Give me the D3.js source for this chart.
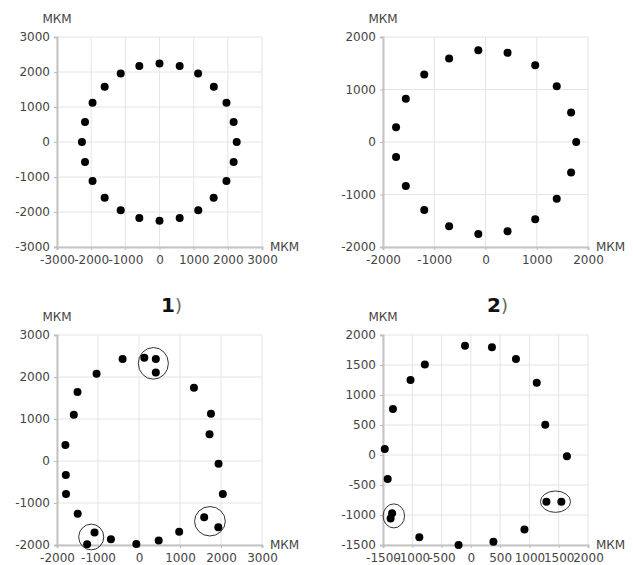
<!DOCTYPE html>
<html>
<head>
<meta charset="utf-8">
<script src="https://cdn.jsdelivr.net/npm/d3@7"></script>
<style>
  body { margin: 0; background: #fff; }
  text { font-family: "DejaVu Sans", sans-serif; }
</style>
</head>
<body>
<script>
// measured points, микрометры
var scan1 = [[0,2240],[590,2170],[1130,1960],[1590,1580],[1960,1120],[2170,570],[2260,0],
  [2170,-570],[1960,-1115],[1585,-1590],[1135,-1950],[590,-2170],[0,-2250],[-590,-2170],
  [-1135,-1950],[-1605,-1590],[-1960,-1115],[-2180,-570],[-2270,0],[-2180,570],
  [-1960,1120],[-1605,1580],[-1135,1960],[-590,2170]];

var scan2 = [[-140,1750],[430,1700],[970,1460],[1390,1060],[1670,560],[1770,0],[1670,-580],
  [1390,-1080],[970,-1470],[430,-1700],[-140,-1750],[-710,-1605],[-1195,-1295],
  [-1555,-840],[-1745,-285],[-1745,280],[-1555,825],[-1195,1285],[-710,1590]];

var scan3 = [[-400,2430],[130,2460],[410,2430],[410,2110],[-1035,2080],[-1500,1640],
  [-1590,1100],[-1795,380],[-1785,-335],[-1780,-785],[-1495,-1255],[-1085,-1705],
  [-1265,-1985],[-685,-1865],[-65,-1975],[480,-1890],[980,-1685],[1340,1745],
  [1755,1125],[1720,635],[1940,-65],[2045,-785],[1590,-1340],[1935,-1580]];

var scan4 = [[-100,1820],[360,1795],[770,1600],[1125,1205],[1270,505],[1640,-20],
  [1290,-780],[1545,-780],[915,-1240],[385,-1445],[-210,-1500],[-880,-1370],
  [-1345,-970],[-1370,-1060],[-1420,-400],[-1470,100],[-1330,765],[-1030,1250],[-785,1510]];

// groups circled on the lower charts
var marks3 = [{cx: 350, cy: 2325, rx: 367, ry: 377}, {cx: -1165, cy: -1810, rx: 306, ry: 306},
  {cx: 1730, cy: -1435, rx: 375, ry: 350}];
var marks4 = [{cx: -1315, cy: -1015, rx: 183, ry: 200}, {cx: 1445, cy: -778, rx: 257, ry: 178}];

var ticks1 = [-3000,-2000,-1000,0,1000,2000,3000];
var ticks2 = [-2000,-1000,0,1000,2000];
var ticks3x = [-2000,-1000,0,1000,2000,3000];
var ticks3y = [-2000,-1000,0,1000,2000,3000];
var ticks4x = [-1500,-1000,-500,0,500,1000,1500,2000];
var ticks4y = [-1500,-1000,-500,0,500,1000,1500,2000];

var unitLabel = "МКМ";
var captions = [["1", ")"], ["2", ")"]];

var svg = d3.select("body").append("svg")
    .attr("width", 633)
    .attr("height", 565);

var panels = [
  { left: 57,  top: 37,  pts: scan1, xt: ticks1,  yt: ticks1,  marks: [] },
  { left: 383, top: 37,  pts: scan2, xt: ticks2,  yt: ticks2,  marks: [] },
  { left: 57,  top: 335, pts: scan3, xt: ticks3x, yt: ticks3y, marks: marks3 },
  { left: 383, top: 335, pts: scan4, xt: ticks4x, yt: ticks4y, marks: marks4 }
];

var w = 205, h = 210;
var fmt = function (d) { return String(d); };   // plain hyphen, as on the original

panels.forEach(function (p) {
  var g = svg.append("g").attr("transform", "translate(" + p.left + "," + p.top + ")");

  var x = d3.scaleLinear().domain(d3.extent(p.xt)).range([0, w]);
  var y = d3.scaleLinear().domain(d3.extent(p.yt)).range([h, 0]);

  // grid
  g.selectAll(".gx").data(p.xt).enter().append("line")
      .attr("x1", function (d) { return x(d); }).attr("x2", function (d) { return x(d); })
      .attr("y1", 0).attr("y2", h)
      .attr("stroke", "#e4e4e4");
  g.selectAll(".gy").data(p.yt).enter().append("line")
      .attr("y1", function (d) { return y(d); }).attr("y2", function (d) { return y(d); })
      .attr("x1", 0).attr("x2", w)
      .attr("stroke", "#e4e4e4");

  var ax = g.append("g").attr("transform", "translate(0," + h + ")")
      .call(d3.axisBottom(x).tickValues(p.xt).tickSize(3).tickPadding(5).tickFormat(fmt));
  var ay = g.append("g")
      .call(d3.axisLeft(y).tickValues(p.yt).tickSize(3).tickPadding(4).tickFormat(fmt));

  [ax, ay].forEach(function (a) {
    a.select(".domain").attr("stroke", "#c4c4c4").attr("stroke-width", 2);
    a.selectAll(".tick line").attr("stroke", "#bbb");
    a.selectAll(".tick text").attr("fill", "#444").style("font-size", "12px")
        .style("font-family", "'DejaVu Sans', sans-serif");
  });

  // circled groups
  g.selectAll(".mark").data(p.marks).enter().append("ellipse")
      .attr("cx", function (d) { return x(d.cx); })
      .attr("cy", function (d) { return y(d.cy); })
      .attr("rx", function (d) { return x(d.cx + d.rx) - x(d.cx); })
      .attr("ry", function (d) { return y(d.cy - d.ry) - y(d.cy); })
      .attr("fill", "none")
      .attr("stroke", "#333")
      .attr("stroke-width", 1);

  g.selectAll(".dot").data(p.pts).enter().append("circle")
      .attr("cx", function (d) { return x(d[0]); })
      .attr("cy", function (d) { return y(d[1]); })
      .attr("r", 4)
      .attr("fill", "#000");

  // units
  g.append("text").attr("x", 0).attr("y", -14)
      .attr("text-anchor", "middle")
      .attr("fill", "#444").style("font-size", "12px")
      .text(unitLabel);
  g.append("text").attr("x", w + 8).attr("y", h + 4)
      .attr("fill", "#444").style("font-size", "12px")
      .text(unitLabel);
});

// captions under top charts
var capX = [161, 487];
captions.forEach(function (c, i) {
  var t = svg.append("text").attr("x", capX[i]).attr("y", 312)
      .style("font-size", "20px");
  t.append("tspan").attr("fill", "#111").attr("font-weight", "bold").text(c[0]);
  t.append("tspan").attr("fill", "#666").style("font-size", "18px").text(c[1]);
});
</script>
</body>
</html>
